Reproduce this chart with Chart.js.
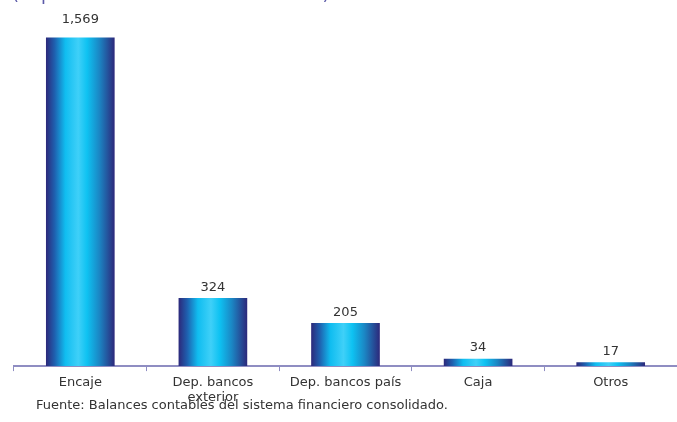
<!DOCTYPE html>
<html>
<head>
<meta charset="utf-8">
<script src="https://cdn.jsdelivr.net/npm/chart.js@4/dist/chart.umd.min.js"></script>
<style>
  html,body{margin:0;padding:0;background:#fff;}
  #wrap{width:677px;height:422px;position:relative;}
</style>
</head>
<body>
<div id="wrap"><canvas id="chart"></canvas></div>
<script>
const categories = [["Encaje"], ["Dep. bancos", "exterior"], ["Dep. bancos país"], ["Caja"], ["Otros"]];
const values = [1569, 324, 205, 34, 17];
const titleText = "(Expresado en millones de dólares)";
const sourceText = "Fuente: Balances contables del sistema financiero consolidado.";

const axisColor = "#8f8dc2";
const textColor = "#333333";

function barGradient(context){
  const chart = context.chart;
  const xs = chart.scales.x;
  if(!xs || !chart.chartArea) return "#14b8ee";
  const cx = xs.getPixelForValue(context.dataIndex);
  const g = chart.ctx.createLinearGradient(cx-34,0,cx+34,0);
  g.addColorStop(0,"#2c2a7c");
  g.addColorStop(0.12,"#1f5fae");
  g.addColorStop(0.28,"#10bdf0");
  g.addColorStop(0.47,"#3fd0f8");
  g.addColorStop(0.6,"#0ec2f2");
  g.addColorStop(0.78,"#1b86c4");
  g.addColorStop(1,"#2c2a7c");
  return g;
}

const extras = {
  id:"extras",
  afterDatasetsDraw(chart){
    const ctx = chart.ctx;
    ctx.save();
    ctx.font = "13px 'DejaVu Sans'";
    ctx.fillStyle = textColor;
    ctx.textAlign = "center";
    ctx.textBaseline = "middle";
    chart.getDatasetMeta(0).data.forEach((bar,i)=>{
      const off = i===0 ? 18 : 11;
      ctx.fillText(values[i].toLocaleString("en-US"), bar.x, bar.y-off);
    });
    // title, cut at the top edge
    ctx.font = "18px 'DejaVu Sans'";
    ctx.fillStyle = "#5b5aa8";
    ctx.textAlign = "left";
    ctx.textBaseline = "alphabetic";
    ctx.fillText(titleText, 12, 0);
    // source note
    ctx.font = "13px 'DejaVu Sans'";
    ctx.fillStyle = textColor;
    ctx.textBaseline = "middle";
    ctx.fillText(sourceText, 36, 406);
    ctx.restore();
  }
};

new Chart(document.getElementById("chart"),{
  type:"bar",
  data:{
    labels:categories,
    datasets:[{data:values,backgroundColor:barGradient,barThickness:68,borderWidth:0}]
  },
  options:{
    responsive:true,
    maintainAspectRatio:false,
    animation:false,
    layout:{padding:{left:14,right:-7,top:0,bottom:13}},
    plugins:{legend:{display:false},tooltip:{enabled:false}},
    scales:{
      x:{
        offset:true,
        grid:{display:true,drawOnChartArea:false,offset:true,tickLength:5,color:axisColor,lineWidth:1},
        border:{display:true,color:axisColor,width:2},
        ticks:{color:textColor,padding:4,font:{family:"DejaVu Sans",size:13,lineHeight:1.15},maxRotation:0,autoSkip:false}
      },
      y:{display:false,min:0,max:1750}
    }
  },
  plugins:[extras]
});
</script>
</body>
</html>
